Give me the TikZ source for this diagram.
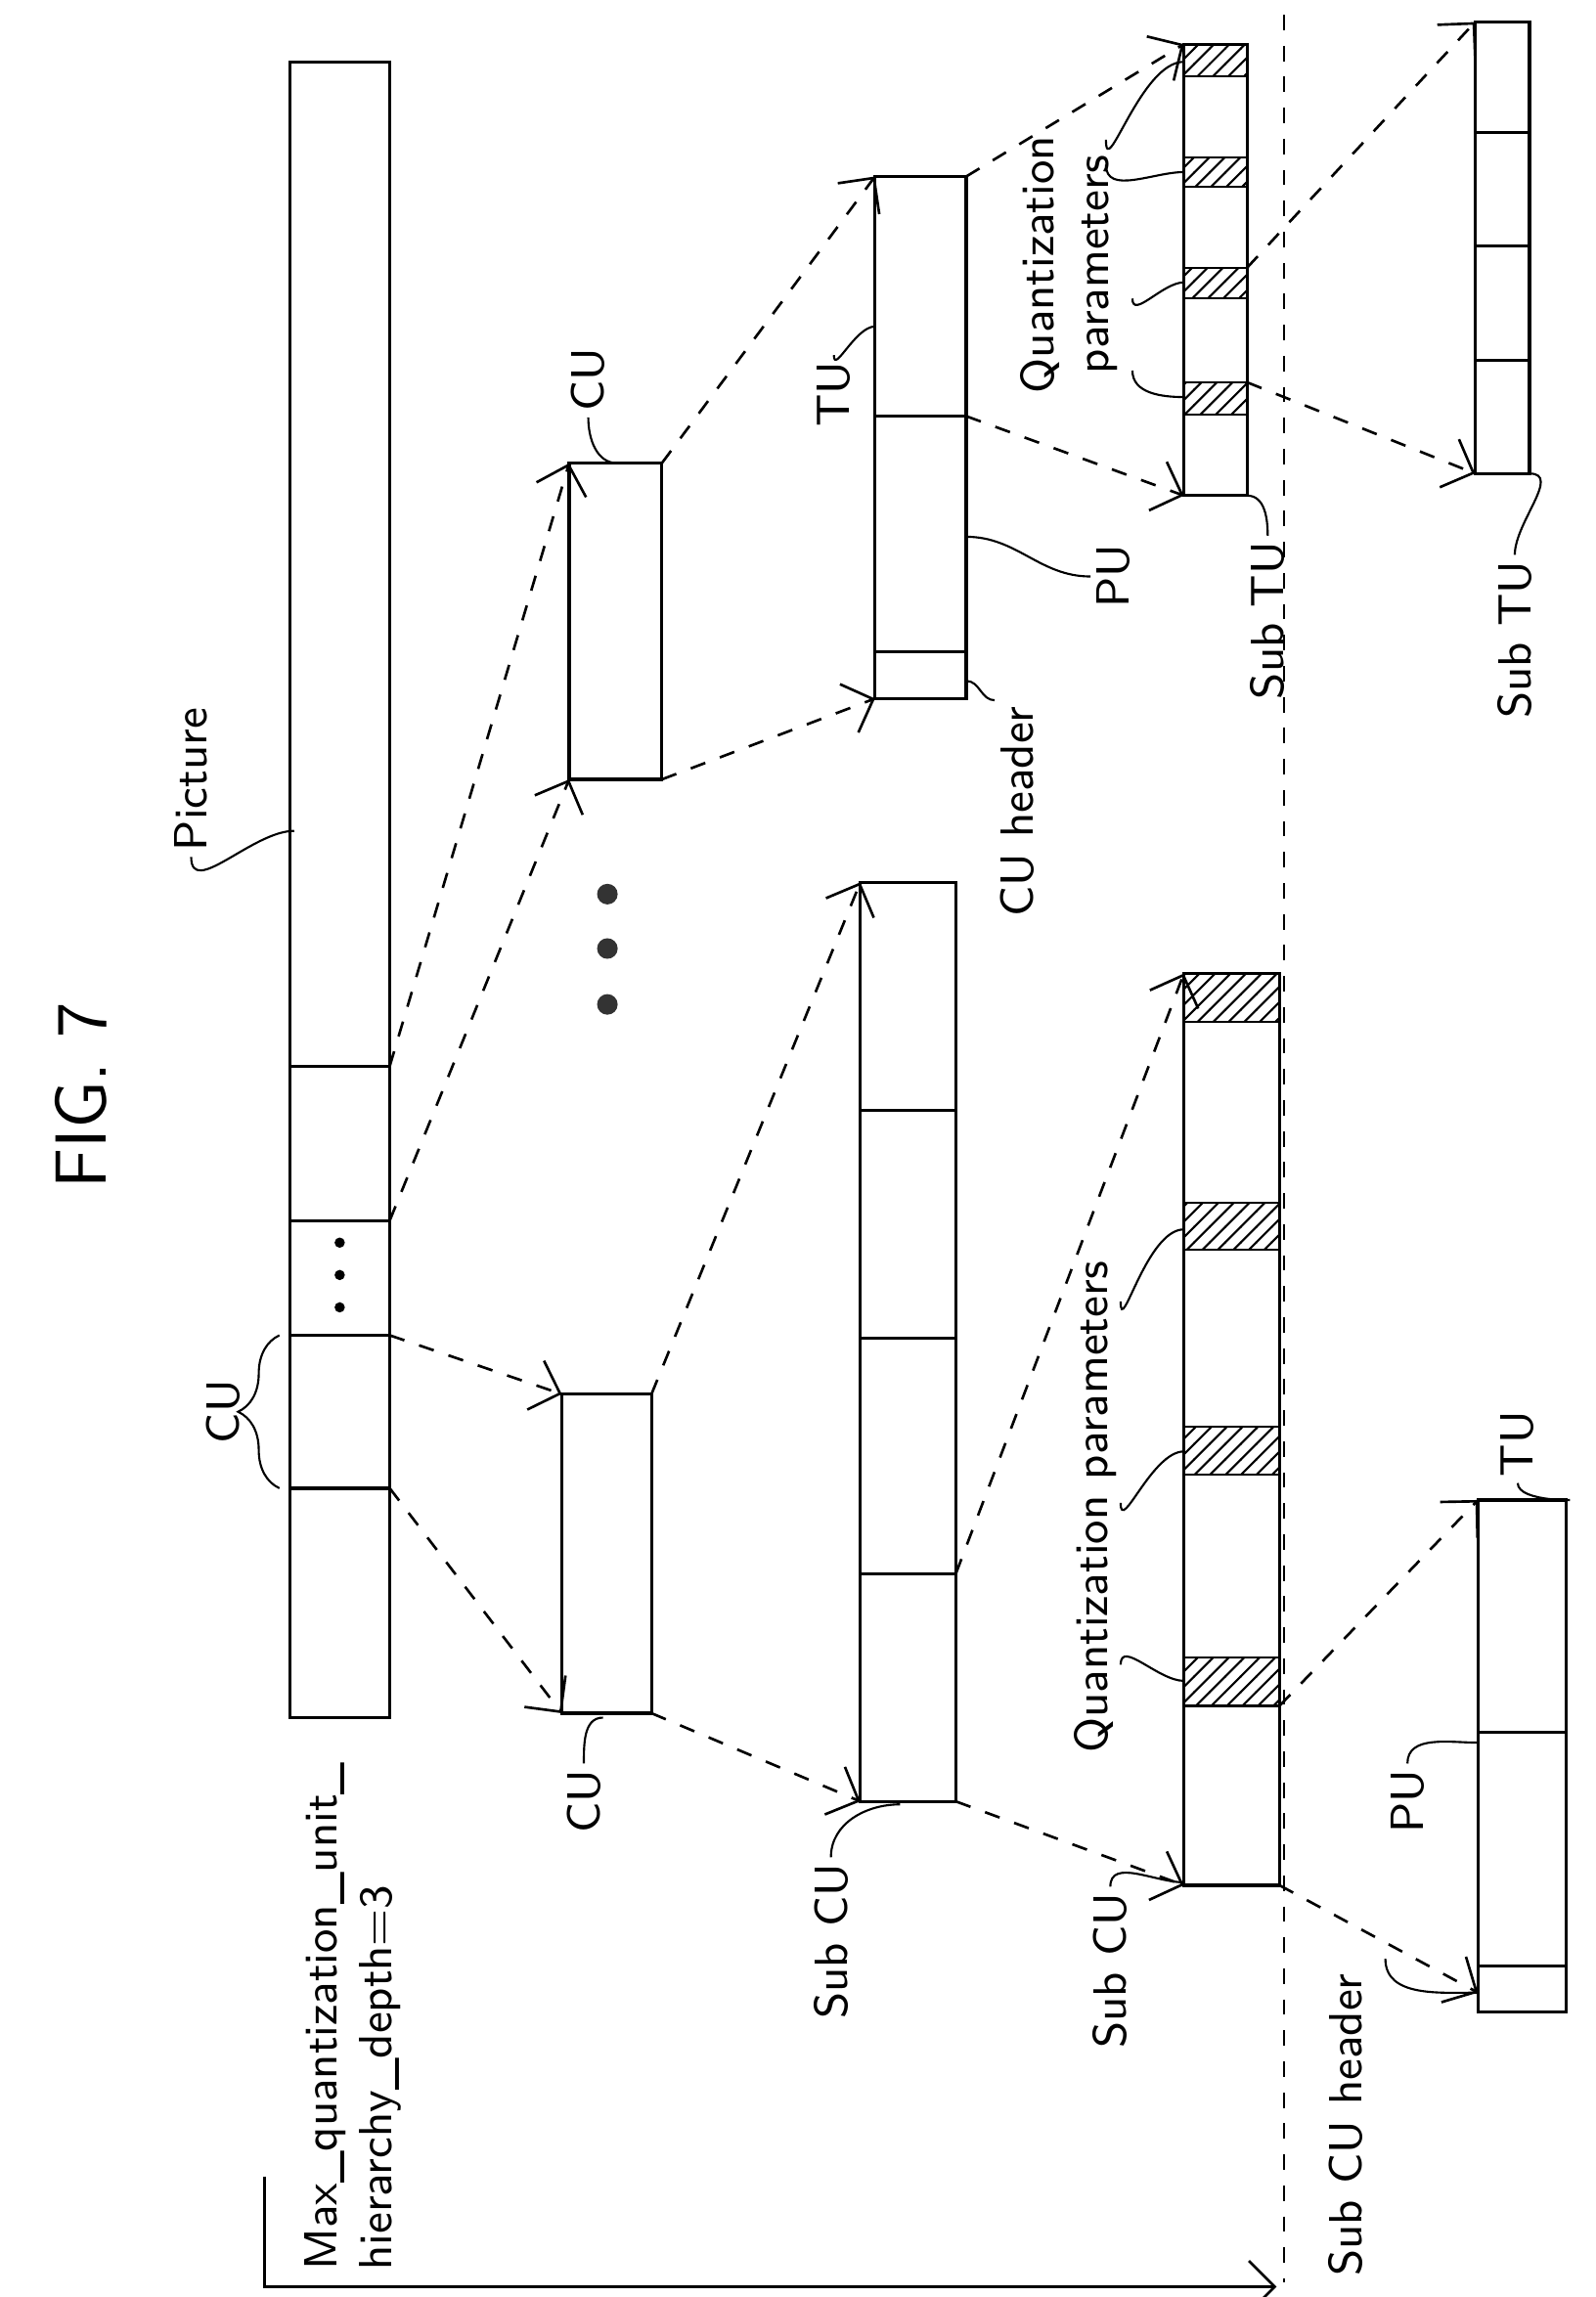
\documentclass[tikz,border=0pt]{standalone}
\usepackage{tikz}
\usetikzlibrary{arrows.meta,patterns,positioning,decorations.pathreplacing}
\begin{document}
\begin{tikzpicture}[x=0.1mm,y=-0.1mm,
  font=\sffamily\fontsize{9}{10.5}\selectfont,
  blk/.style={draw, line width=0.6pt},
  hatch/.style={draw, pattern=north east lines},
  link/.style={dashed, line width=0.5pt, -{Straight Barb[length=5pt]}},
  lead/.style={line width=0.4pt},
  lbl/.style={rotate=90, inner sep=1pt}]
  \useasboundingbox (0,0) rectangle (1085,1562);
  \node[lbl, font=\sffamily\fontsize{14}{16}\selectfont] (fig) at (55,745) {FIG. 7};

  % Picture
  \draw[blk] (197,42) rectangle (265,1168);
  \foreach \y in {725,830,908,1012} \draw[blk] (197,\y) -- (265,\y);
  \foreach \y in {845,867,889} \fill (231,\y) circle (3.5);
  \coordinate (p1) at (265,725); \coordinate (p2) at (265,830);
  \coordinate (p3) at (265,908); \coordinate (p4) at (265,1012);
  \node[lbl] (picture) at (130,530) {Picture};
  \draw[lead] (picture.west) to[out=-90,in=180] (200,565);
  \draw[decorate, decoration={brace, amplitude=8pt}, lead] (190,1012) -- (190,908);
  \node[lbl] (cu0) at (152,960) {CU};
  \node[lbl, anchor=north west, align=left] (maxq) at (203,1548)
    {Max\_quantization\_unit\_\\hierarchy\_depth=3};

  % CU boxes
  \draw[blk] (382,948) rectangle (443,1165);
  \coordinate (c1a) at (382,948); \coordinate (c1b) at (382,1165);
  \coordinate (c1c) at (443,948); \coordinate (c1d) at (443,1165);
  \draw[blk] (387,315) rectangle (450,530);
  \coordinate (c2a) at (387,315); \coordinate (c2b) at (387,530);
  \coordinate (c2c) at (450,315); \coordinate (c2d) at (450,530);
  \foreach \y in {608,645,683} \fill[black!80] (413,\y) circle (7);
  \draw[link] (p3) -- (c1a); \draw[link] (p4) -- (c1b);
  \draw[link] (p2) -- (c2b); \draw[link] (p1) -- (c2a);
  \node[lbl] (cu1) at (397,1225) {CU};
  \draw[lead] (cu1.east) to[out=90,in=180] (410,1168);
  \node[lbl] (cu2) at (400,258) {CU};
  \draw[lead] (cu2.west) to[out=-90,in=180] (420,315);

  % Sub CU
  \draw[blk] (585,600) rectangle (650,1225);
  \foreach \y in {755,910,1070} \draw[blk] (585,\y) -- (650,\y);
  \coordinate (s1a) at (585,600); \coordinate (s1b) at (585,1225);
  \coordinate (s1c) at (650,1070); \coordinate (s1d) at (650,1225);
  \draw[link] (c1c) -- (s1a); \draw[link] (c1d) -- (s1b);
  \node[lbl] (subcu1) at (565,1320) {Sub CU};
  \draw[lead] (subcu1.east) to[out=90,in=180] (612,1227);

  % TU / PU
  \draw[blk] (595,120) rectangle (657,475);
  \foreach \y in {283,443} \draw[blk] (595,\y) -- (657,\y);
  \coordinate (t1a) at (595,120); \coordinate (t1b) at (595,475);
  \coordinate (t1c) at (657,120); \coordinate (t1d) at (657,283);
  \draw[link] (c2c) -- (t1a); \draw[link] (c2d) -- (t1b);
  \node[lbl] (tu1) at (567,268) {TU};
  \draw[lead] (tu1.east) to[out=-90,in=180] (595,222);
  \node[lbl] (pu1) at (757,392) {PU};
  \draw[lead] (pu1.north) to[out=180,in=0] (657,365);
  \node[lbl] (cuh) at (692,552) {CU header};
  \draw[lead] (cuh.north east) to[out=180,in=0] (657,463);

  % Sub TU column
  \draw[blk] (805,30) rectangle (848,337);
  \foreach \a/\b in {30/52,107/127,182/203,260/282} \draw[hatch] (805,\a) rectangle (848,\b);
  \coordinate (q1a) at (805,30); \coordinate (q1b) at (805,337);
  \coordinate (q1c) at (848,182); \coordinate (q1d) at (848,260);
  \draw[link] (t1c) -- (q1a); \draw[link] (t1d) -- (q1b);
  \node[lbl, align=center] (qp1) at (727,180) {Quantization\\parameters};
  \draw[lead] (752,95) to[out=-90,in=180] (805,42);
  \draw[lead] (752,112) to[out=-90,in=180] (805,117);
  \draw[lead] (770,203) to[out=-90,in=180] (805,192);
  \draw[lead] (770,252) to[out=-90,in=180] (805,270);
  \node[lbl] (subtu1) at (862,422) {Sub TU};
  \draw[lead] (subtu1.east) to[out=90,in=0] (848,337);

  % Sub TU right
  \draw[blk] (1003,15) rectangle (1040,322);
  \foreach \y in {90,167,245} \draw[blk] (1003,\y) -- (1040,\y);
  \coordinate (r1a) at (1003,15); \coordinate (r1b) at (1003,322);
  \draw[link] (q1c) -- (r1a); \draw[link] (q1d) -- (r1b);
  \node[lbl] (subtu2) at (1030,435) {Sub TU};
  \draw[lead] (subtu2.east) to[out=90,in=0] (1040,322);

  % Quantization column
  \draw[blk] (805,662) rectangle (870,1282);
  \foreach \a/\b in {662/695,818/850,970/1003,1127/1160} \draw[hatch] (805,\a) rectangle (870,\b);
  \coordinate (q2a) at (805,662); \coordinate (q2b) at (805,1282);
  \coordinate (q2c) at (870,1160); \coordinate (q2d) at (870,1282);
  \draw[link] (s1c) -- (q2a); \draw[link] (s1d) -- (q2b);
  \node[lbl] (qp2) at (745,1025) {Quantization parameters};
  \draw[lead] (762,885) to[out=-90,in=180] (805,836);
  \draw[lead] (762,1022) to[out=-90,in=180] (805,987);
  \draw[lead] (762,1132) to[out=90,in=180] (805,1143);
  \node[lbl] (subcu2) at (755,1340) {Sub CU};
  \draw[lead] (subcu2.east) to[out=90,in=180] (805,1280);

  % TU / PU bottom
  \draw[blk] (1005,1020) rectangle (1065,1368);
  \foreach \y in {1178,1337} \draw[blk] (1005,\y) -- (1065,\y);
  \coordinate (t2a) at (1005,1020); \coordinate (t2b) at (1005,1355);
  \draw[link] (q2c) -- (t2a); \draw[link] (q2d) -- (t2b);
  \node[lbl] (tu2) at (1032,982) {TU};
  \draw[lead] (tu2.west) to[out=-90,in=0] (1065,1020);
  \node[lbl] (pu2) at (957,1225) {PU};
  \draw[lead] (pu2.east) to[out=90,in=180] (1005,1185);
  \node[lbl] (subcuh) at (915,1445) {Sub CU header};
  \draw[lead] (942,1332) to[out=-90,in=180] (1005,1355);

  % depth line
  \draw[dashed, line width=0.4pt] (873,10) -- (873,1552);
  \coordinate (d0) at (180,1480); \coordinate (d1) at (180,1555); \coordinate (d2) at (868,1555);
  \draw[line width=0.5pt, -{Straight Barb[length=5pt]}] (d0) -- (d1) -- (d2);
\end{tikzpicture}
\end{document}
